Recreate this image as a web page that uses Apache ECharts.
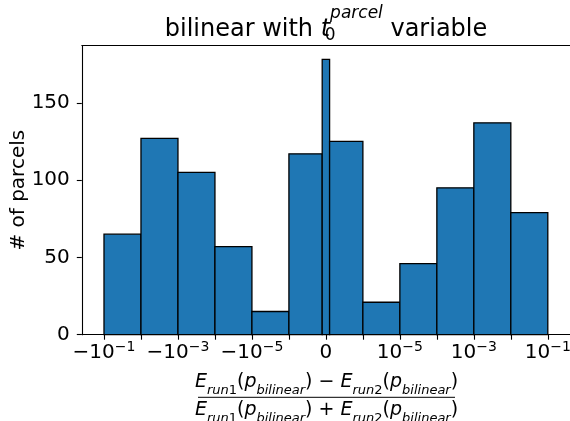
<!DOCTYPE html>
<html><head><meta charset="utf-8">
<script src="https://cdn.jsdelivr.net/npm/echarts@6/dist/echarts.min.js"></script>
<style>html,body{margin:0;padding:0;background:#fff}#c{width:570px;height:421px}</style>
</head><body><div id="c"></div>
<script>
// histogram bin edges (real values, symlog axis) and counts
const binEdges = [-1e-1, -1e-2, -1e-3, -1e-4, -1e-5, -1e-6, -1e-7, 1e-7, 1e-6, 1e-5, 1e-4, 1e-3, 1e-2, 1e-1];
const counts = [65, 127, 105, 57, 15, 117, 178, 125, 21, 46, 95, 137, 79];
const xTickValues = [-1e-1, -1e-2, -1e-3, -1e-4, -1e-5, -1e-6, 0, 1e-6, 1e-5, 1e-4, 1e-3, 1e-2, 1e-1];
const xTickLabels = ['−10|−1', '', '−10|−3', '', '−10|−5', '', '0', '', '10|−5', '', '10|−3', '', '10|−1'];
const yTicks = [0, 50, 100, 150];
const LINTHRESH = 1e-6;

function symlog(v) {
  const a = Math.abs(v);
  if (a <= LINTHRESH) return v / LINTHRESH;
  return Math.sign(v) * (1 + Math.log10(a / LINTHRESH));
}
const xPos = xTickValues.map(symlog);
const lo = symlog(binEdges[0]), hi = symlog(binEdges[binEdges.length - 1]);
const pad = 0.05 * (hi - lo);
const yMax = Math.max(...counts) * 1.05;
const FONT = 'DejaVu Sans';

const chart = echarts.init(document.getElementById('c'), null, {renderer: 'canvas'});

function mathRich(base, sub) {
  const c = {fontFamily: FONT, color: '#000', fontWeight: 'normal'};
  return {
    n: Object.assign({fontSize: base, lineHeight: 30}, c),
    i: Object.assign({fontSize: base, fontStyle: 'italic', lineHeight: 30}, c),
    si: Object.assign({fontSize: sub, fontStyle: 'italic', verticalAlign: 'bottom'}, c),
    s: Object.assign({fontSize: sub, verticalAlign: 'bottom'}, c)
  };
}
const term = (k) => '{i|E}{si|run}{s|' + k + '}{n|(}{i|p}{si|bilinear}{n|)}';
const numText = term(1) + '{n| − }' + term(2);
const denText = term(1) + '{n| + }' + term(2);

const option = {
  animation: false,
  backgroundColor: '#fff',
  title: {
    text: '{n|bilinear with }{t|t}{sub|0}{sup|parcel}{n| variable}',
    left: 326, top: 2.9, textAlign: 'center', padding: 0,
    textStyle: {
      fontWeight: 'normal',
      rich: {
        n: {fontFamily: FONT, fontSize: 24, fontWeight: 'normal', color: '#000', lineHeight: 53.6},
        t: {fontFamily: FONT, fontSize: 24, fontWeight: 'normal', fontStyle: 'italic', color: '#000', lineHeight: 53.6},
        sub: {fontFamily: FONT, fontSize: 17, fontWeight: 'normal', color: '#000', verticalAlign: 'bottom', width: 0, padding: [0, 0, 12.8, 0]},
        sup: {fontFamily: FONT, fontSize: 17, fontWeight: 'normal', fontStyle: 'italic', color: '#000', verticalAlign: 'top', padding: [2.5, 0, 0, 0]}
      }
    }
  },
  grid: {left: 81.8, right: 0, top: 45.7, bottom: 86.3, containLabel: false, outerBoundsMode: 'none'},
  xAxis: [{
    type: 'value', min: lo - pad, max: hi + pad,
    splitLine: {show: false},
    axisLine: {show: true, onZero: false, lineStyle: {color: '#000', width: 1.1}},
    axisTick: {show: true, length: 5, lineStyle: {color: '#000', width: 1.1}, customValues: xPos},
    axisLabel: {
      show: true, margin: 6, color: '#000', hideOverlap: false,
      customValues: xPos.filter((p, i) => xTickLabels[i] !== ''),
      formatter: function (v) {
        let best = 0;
        xPos.forEach((p, i) => { if (Math.abs(p - v) < Math.abs(xPos[best] - v)) best = i; });
        const lab = xTickLabels[best];
        if (lab.indexOf('|') < 0) return '{b|' + lab + '}';
        const parts = lab.split('|');
        return '{b|' + parts[0] + '}{s|' + parts[1] + '}';
      },
      rich: {
        b: {fontFamily: FONT, fontSize: 20, color: '#000', lineHeight: 24},
        s: {fontFamily: FONT, fontSize: 14, color: '#000', verticalAlign: 'top'}
      }
    }
  }, {
    type: 'value', position: 'top', min: lo - pad, max: hi + pad,
    splitLine: {show: false}, axisTick: {show: false}, axisLabel: {show: false},
    axisLine: {show: true, onZero: false, lineStyle: {color: '#000', width: 1.1}}
  }],
  yAxis: {
    type: 'value', min: 0, max: yMax,
    name: '# of parcels', nameLocation: 'middle', nameGap: 53, nameRotate: 90, nameMoveOverlap: false,
    nameTextStyle: {fontFamily: FONT, fontSize: 20, color: '#000'},
    splitLine: {show: false},
    axisLine: {show: true, onZero: false, lineStyle: {color: '#000', width: 1.1}},
    axisTick: {show: true, length: 5, lineStyle: {color: '#000', width: 1.1}, customValues: yTicks},
    axisLabel: {show: true, margin: 12, fontFamily: FONT, fontSize: 20, color: '#000', customValues: yTicks}
  },
  series: [{
    type: 'custom',
    xAxisIndex: 0,
    clip: false,
    encode: {x: [0, 1], y: 2},
    data: counts.map((c, i) => [symlog(binEdges[i]), symlog(binEdges[i + 1]), c]),
    renderItem: function (params, api) {
      const p0 = api.coord([api.value(0), 0]);
      const p1 = api.coord([api.value(1), api.value(2)]);
      return {
        type: 'rect',
        shape: {x: p0[0], y: p1[1], width: p1[0] - p0[0], height: p0[1] - p1[1]},
        style: {fill: '#1f77b4', stroke: '#000', lineWidth: 1.3}
      };
    }
  }],
  graphic: [
    {type: 'text', x: 326.5, y: 382.5, silent: true, style: {text: numText, rich: mathRich(19, 13), align: 'center', verticalAlign: 'middle'}},
    {type: 'line', silent: true, shape: {x1: 198, y1: 397.3, x2: 455, y2: 397.3}, style: {stroke: '#000', lineWidth: 1}},
    {type: 'text', x: 326.5, y: 409.8, silent: true, style: {text: denText, rich: mathRich(19, 13), align: 'center', verticalAlign: 'middle'}}
  ]
};
chart.setOption(option);
</script>
</body></html>
